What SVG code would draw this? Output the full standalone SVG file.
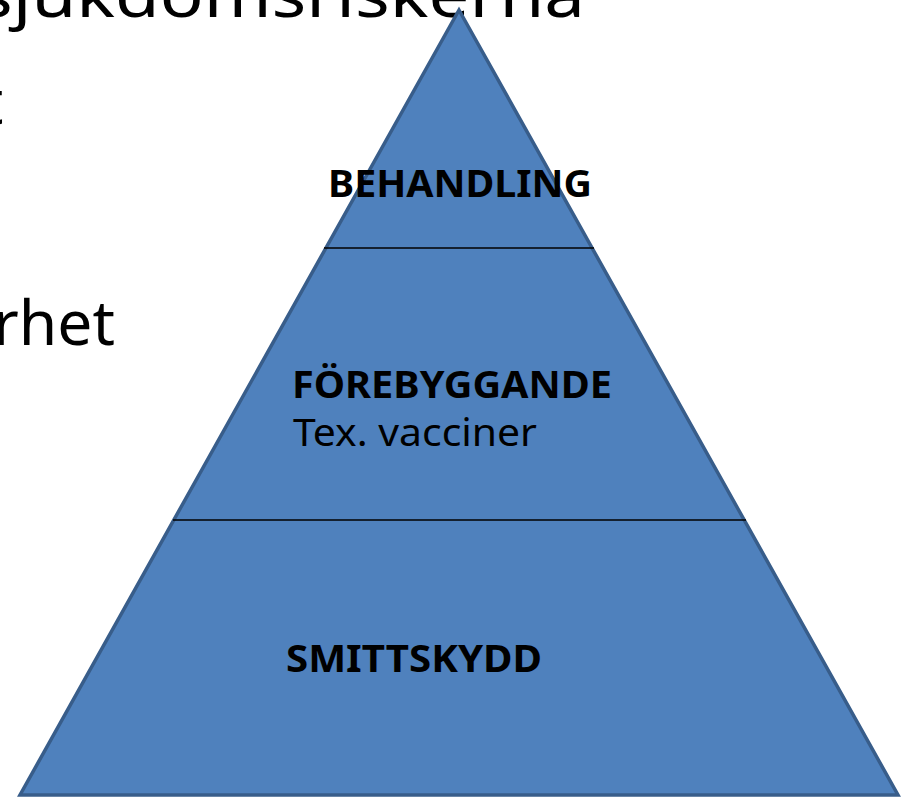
<svg xmlns="http://www.w3.org/2000/svg" width="902" height="798" viewBox="0 0 902 798">
<style>
.bg{font-family:"Noto Sans","Open Sans","Liberation Sans",sans-serif;font-size:62px;fill:#000}
.lbl{font-family:"Noto Sans","Open Sans","Liberation Sans",sans-serif;font-size:38px;fill:#000}
.b{font-weight:bold}
.tri{fill:#4F81BD;stroke:#385D8A;stroke-width:3.5;stroke-linejoin:miter}
.div{stroke:#000;stroke-width:1.6}
</style>
<rect width="902" height="798" fill="#fff"/>
<g id="background-text">
<text class="bg" x="-22" y="17" textLength="607" lengthAdjust="spacingAndGlyphs">sjukdomsriskerna</text>
<text class="bg" x="-19" y="124">t</text>
<text class="bg" x="-7" y="345" textLength="122" lengthAdjust="spacingAndGlyphs">rhet</text>
</g>
<g id="pyramid">
<polygon class="tri" points="459,10 898,795 20,795"/>
</g>
<g id="connectors">
<line class="div" x1="324" y1="248" x2="594" y2="248"/>
<line class="div" x1="173" y1="520" x2="746" y2="520"/>
</g>
<g id="node-behandling">
<text class="lbl b" x="328" y="197" textLength="264" lengthAdjust="spacingAndGlyphs">BEHANDLING</text>
</g>
<g id="node-forebyggande">
<text class="lbl b" x="292" y="398" textLength="320" lengthAdjust="spacingAndGlyphs">FÖREBYGGANDE</text>
<text class="lbl" x="293" y="446" textLength="244" lengthAdjust="spacingAndGlyphs">Tex. vacciner</text>
</g>
<g id="node-smittskydd">
<text class="lbl b" x="286" y="672" textLength="256" lengthAdjust="spacingAndGlyphs">SMITTSKYDD</text>
</g>
</svg>
